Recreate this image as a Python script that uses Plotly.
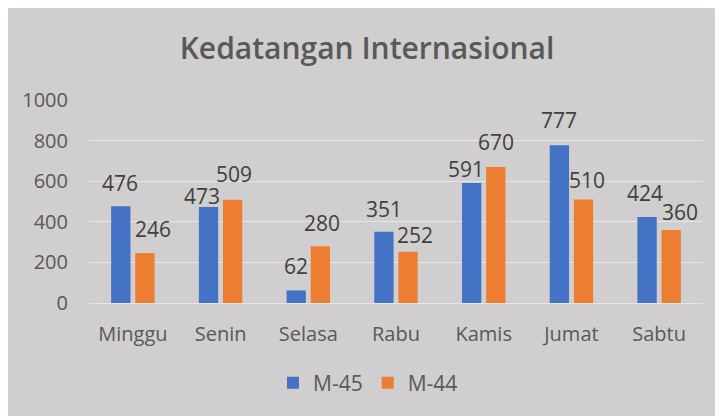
import plotly.graph_objects as go

days = ["Minggu", "Senin", "Selasa", "Rabu", "Kamis", "Jumat", "Sabtu"]
m45 = [476, 473, 62, 351, 591, 777, 424]
m44 = [246, 509, 280, 252, 670, 510, 360]
y_ticks = [0, 200, 400, 600, 800, 1000]

# label nudges (px): (dx, height above bar top)
nudge45 = [(0, 23), (-6, 11), (0, 24), (0, 23), (-5, 14), (0, 25), (-2, 24)]
nudge44 = [(8, 24), (1, 26), (1, 23), (6, 17), (0, 25), (3, 19), (8, 18)]

BLUE = "#4472C4"
ORANGE = "#ED7D31"
BG = "#D0CECE"
FONT = "Open Sans"

fig = go.Figure()
fig.add_trace(go.Bar(name="M-45", x=days, y=m45, marker=dict(color=BLUE, line=dict(width=0))))
fig.add_trace(go.Bar(name="M-44", x=days, y=m44, marker=dict(color=ORANGE, line=dict(width=0))))

annotations = []
for vals, nud, side in ((m45, nudge45, -1), (m44, nudge44, 1)):
    for d, v, (dx, dy) in zip(days, vals, nud):
        annotations.append(dict(
            x=d, y=v, xref="x", yref="y", text=str(v), showarrow=False,
            xshift=side * 12.5 + dx, yshift=dy, yanchor="middle", xanchor="center",
            font=dict(family=FONT, size=21, color="#404040"),
        ))

W, H = 715, 408
fig.update_layout(
    width=W, height=H,
    margin=dict(l=81, r=20, t=92, b=113),
    paper_bgcolor=BG,
    plot_bgcolor=BG,
    barmode="group", bargap=0.45, bargroupgap=0.2,
    title=dict(text="Kedatangan Internasional", x=359 / W, xanchor="center",
               y=1 - 40 / H, yanchor="middle", xref="container", yref="container",
               font=dict(family=FONT, size=30, color="#595959", weight=600)),
    font=dict(family=FONT, color="#595959"),
    showlegend=True,
    legend=dict(orientation="h", x=(368 - 89) / 614, xanchor="center",
                y=(303 - 383) / 203, yanchor="middle",
                font=dict(family=FONT, size=21, color="#595959"),
                bgcolor="rgba(0,0,0,0)", itemwidth=30),
    annotations=annotations,
)
fig.update_xaxes(showgrid=False, showline=False, ticks="", tickfont=dict(family=FONT, size=20, color="#595959"),
                 ticklabelstandoff=17)
fig.update_yaxes(range=[0, 1000], tickvals=y_ticks, showgrid=True, gridcolor="#E6E6E6", gridwidth=1,
                 zeroline=True, zerolinecolor="#E6E6E6", zerolinewidth=1, showline=False, ticks="",
                 tickfont=dict(family=FONT, size=20, color="#595959"), ticklabelstandoff=20)

fig.write_html("out.html")
